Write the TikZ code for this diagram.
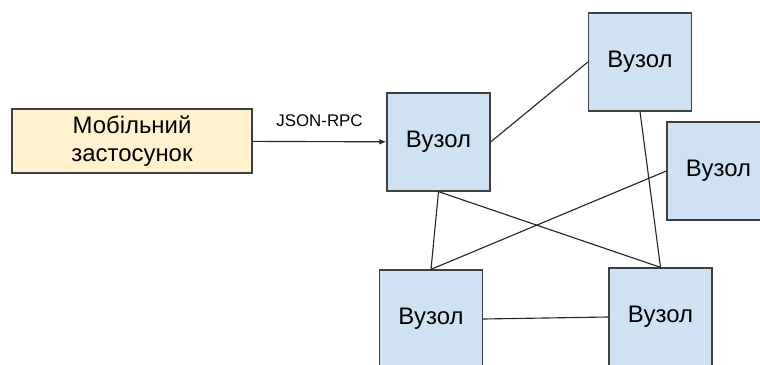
\documentclass[tikz,border=0pt]{standalone}
\usepackage{fontspec}
\setmainfont{Liberation Sans}
\usetikzlibrary{arrows.meta,positioning}
\definecolor{appfill}{HTML}{FFF2CC}
\definecolor{vuzolfill}{HTML}{CFE2F3}
\definecolor{framegray}{HTML}{404040}

\begin{document}
\begin{tikzpicture}[x=0.025cm, y=-0.025cm,
    app/.style={draw=framegray, fill=appfill, line width=0.9pt, minimum width=6cm, minimum height=1.6cm, inner sep=0pt, align=center, font=\fontsize{17}{20}\selectfont},
    vuzol/.style={draw=framegray, fill=vuzolfill, line width=0.9pt, minimum width=2.575cm, minimum height=2.45cm, inner sep=0pt, font=\fontsize{17}{20}\selectfont},
    link/.style={draw=black!85, line width=0.8pt}]
    \useasboundingbox (0,0) rectangle (760,365);
    \clip (0,0) rectangle (760,365);

    % Client
    \node[app] (app) at (132,141) {\raisebox{-2pt}{\parbox{5cm}{\centering Мобільний\\застосунок}}};

    % Network nodes
    \node[vuzol] (v1) at (438.5,142) {Вузол};
    \node[vuzol] (v2) at (640,62) {Вузол};
    \node[vuzol] (v3) at (718.5,171) {Вузол};
    \node[vuzol] (v4) at (431,319) {Вузол};
    \node[vuzol] (v5) at (660.5,317) {Вузол};

    % Request
    \draw[link, -{Latex[length=5pt, width=4pt]}] (app) -- (v1)
        node[midway, above=7pt, font=\fontsize{12}{14}\selectfont] {JSON-RPC};

    % Links between nodes
    \draw[link] (v1.east) -- (v2.west);
    \draw[link] (v1.south) -- (v4.north);
    \draw[link] (v1.south) -- (v5.north);
    \draw[link] (v2.south) -- (v5.north);
    \draw[link] (v3.west) -- (v4.north);
    \draw[link] (v4.east) -- (v5.west);
\end{tikzpicture}
\end{document}
